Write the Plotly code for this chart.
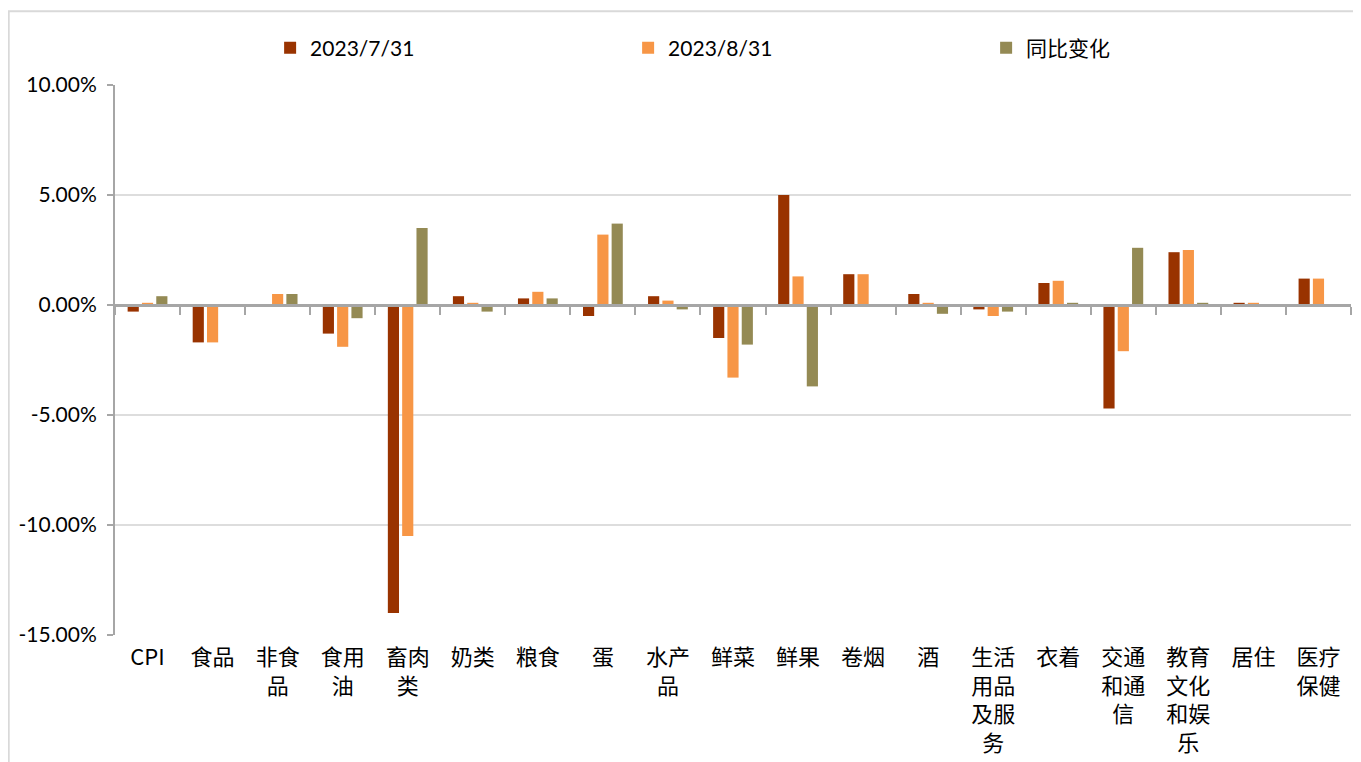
import plotly.graph_objects as go

categories = ["CPI", "食品", "非食<br>品", "食用<br>油", "畜肉<br>类", "奶类", "粮食", "蛋", "水产<br>品",
              "鲜菜", "鲜果", "卷烟", "酒", "生活<br>用品<br>及服<br>务", "衣着", "交通<br>和通<br>信",
              "教育<br>文化<br>和娱<br>乐", "居住", "医疗<br>保健"]
series_names = ["2023/7/31", "2023/8/31", "同比变化"]
jul_values = [-0.3, -1.7, 0.0, -1.3, -14.0, 0.4, 0.3, -0.5, 0.4, -1.5, 5.0, 1.4, 0.5, -0.2, 1.0, -4.7, 2.4, 0.1, 1.2]
aug_values = [0.1, -1.7, 0.5, -1.9, -10.5, 0.1, 0.6, 3.2, 0.2, -3.3, 1.3, 1.4, 0.1, -0.5, 1.1, -2.1, 2.5, 0.1, 1.2]
yoy_values = [0.4, 0.0, 0.5, -0.6, 3.5, -0.3, 0.3, 3.7, -0.2, -1.8, -3.7, 0.0, -0.4, -0.3, 0.1, 2.6, 0.1, 0.0, 0.0]
y_tick_vals = [10, 5, 0, -5, -10, -15]
y_tick_text = ["10.00%", "5.00%", "0.00%", "-5.00%", "-10.00%", "-15.00%"]
colors = ["#993300", "#F79646", "#948A54"]

fig = go.Figure()
for name, vals, col in zip(series_names, [jul_values, aug_values, yoy_values], colors):
    fig.add_trace(go.Bar(x=categories, y=vals, name=name, marker=dict(color=col, line=dict(width=0))))

# invisible trace to carry the category axis drawn through zero
fig.add_trace(go.Bar(x=categories, y=[0] * len(categories), xaxis="x2", showlegend=False,
                     hoverinfo="skip", marker=dict(color="rgba(0,0,0,0)")))

cjk = "Noto Sans CJK SC"
fig.update_layout(
    width=1361, height=762,
    margin=dict(l=107, r=18, t=77, b=135, autoexpand=False),
    paper_bgcolor="white", plot_bgcolor="white",
    barmode="group", bargap=0.34, bargroupgap=0.22,
    font=dict(family=cjk, color="#000000"),
    legend=dict(orientation="h", x=0.1255, xanchor="left", y=1.067, yanchor="middle",
                font=dict(family="Lato, " + cjk, size=21), entrywidth=313, entrywidthmode="pixels",
                itemwidth=30, traceorder="normal"),
    xaxis=dict(type="category", showline=False, ticks="", showgrid=False, automargin=False,
               ticklabelstandoff=7,
               tickfont=dict(family=cjk, size=22, color="#000000"), tickangle=0, fixedrange=True),
    xaxis2=dict(type="category", overlaying="x", matches="x", anchor="free", position=0.6, side="bottom",
                showline=True, linecolor="#A6A6A6", linewidth=2.5, ticks="outside", tickson="boundaries",
                ticklen=8, tickwidth=2, tickcolor="#A6A6A6", showticklabels=False, showgrid=False),
    yaxis=dict(range=[-15, 10], tickvals=y_tick_vals, ticktext=y_tick_text, showgrid=True,
               gridcolor="#DDDDDD", gridwidth=1.5, zeroline=False, showline=True, linecolor="#A6A6A6",
               linewidth=2, ticks="outside", ticklen=6, tickcolor="#A6A6A6", tickwidth=2,
               ticklabelstandoff=6, automargin=False,
               tickfont=dict(family="Lato", size=21, color="#000000")),
    shapes=[dict(type="rect", xref="paper", yref="paper", x0=-0.086, x1=1.03, y0=-0.3, y1=1.134,
                 line=dict(color="#D9D9D9", width=2), fillcolor="rgba(0,0,0,0)", layer="below")],
)

fig.write_html("out.html")
